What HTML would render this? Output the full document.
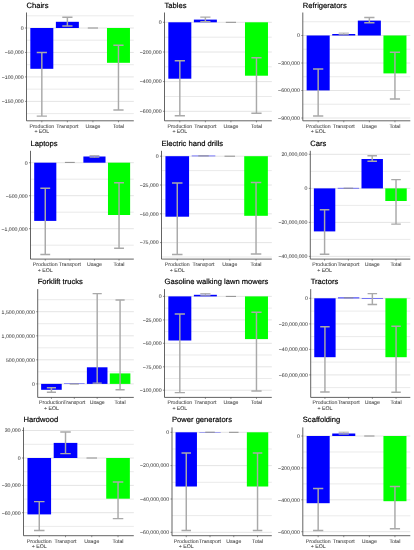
<!DOCTYPE html>
<html lang="en"><head><meta charset="utf-8"><title>Life cycle impact bar charts</title>
<style>html,body{margin:0;padding:0;background:#fff}body{width:414px;height:550px;overflow:hidden}svg{display:block}svg{will-change:transform}.tx{filter:grayscale(1)}text{font-family:"Liberation Sans",sans-serif}text{text-rendering:geometricPrecision}.t{font-size:7.6px;fill:#000;stroke:#000;stroke-width:.18px}.a{font-size:5.2px;fill:#4d4d4d;stroke:#4d4d4d;stroke-width:.08px}.y{text-anchor:end}.x{text-anchor:middle}</style></head><body>
<svg width="414" height="550" viewBox="0 0 414 550">
<rect width="414" height="550" fill="#fff"/>
<g>
<line x1="26.5" x2="133.8" y1="15.8" y2="15.8" stroke="#dcdcdc" stroke-width="0.6"/>
<line x1="26.5" x2="133.8" y1="40.2" y2="40.2" stroke="#dcdcdc" stroke-width="0.6"/>
<line x1="26.5" x2="133.8" y1="64.7" y2="64.7" stroke="#dcdcdc" stroke-width="0.6"/>
<line x1="26.5" x2="133.8" y1="89.15" y2="89.15" stroke="#dcdcdc" stroke-width="0.6"/>
<line x1="26.5" x2="133.8" y1="113.6" y2="113.6" stroke="#dcdcdc" stroke-width="0.6"/>
<line x1="26.5" x2="133.8" y1="28" y2="28" stroke="#d6d6d6" stroke-width="0.65"/>
<line x1="26.5" x2="133.8" y1="52.45" y2="52.45" stroke="#d6d6d6" stroke-width="0.65"/>
<line x1="26.5" x2="133.8" y1="76.9" y2="76.9" stroke="#d6d6d6" stroke-width="0.65"/>
<line x1="26.5" x2="133.8" y1="101.4" y2="101.4" stroke="#d6d6d6" stroke-width="0.65"/>
<rect x="30.33" y="28" width="22.99" height="40.8" fill="#0000ff"/>
<rect x="55.88" y="21.8" width="22.99" height="6.2" fill="#0000ff"/>
<rect x="106.98" y="28" width="22.99" height="34.8" fill="#00ff00"/>
<path d="M36.72 52.4H46.94M36.72 116.1H46.94M41.83 52.4V116.1" stroke="#a9a9a9" stroke-width="1.45" fill="none"/>
<path d="M62.27 17.3H72.49M62.27 26H72.49M67.38 17.3V26" stroke="#a9a9a9" stroke-width="1.45" fill="none"/>
<path d="M87.81 28H98.03" stroke="#8e8e8e" stroke-width="1.0" fill="none"/>
<path d="M113.36 45.2H123.58M113.36 110H123.58M118.47 45.2V110" stroke="#a9a9a9" stroke-width="1.45" fill="none"/>
<path d="M26.5 12.5V120.8H133.8" stroke="#484848" stroke-width="0.85" fill="none"/>
<path d="M25 28H26.5M25 52.45H26.5M25 76.9H26.5M25 101.4H26.5M41.83 120.8V122.3M67.38 120.8V122.3M92.92 120.8V122.3M118.47 120.8V122.3" stroke="#484848" stroke-width="0.6" fill="none"/>
</g>
<g>
<line x1="164.5" x2="271.8" y1="37.2" y2="37.2" stroke="#dcdcdc" stroke-width="0.6"/>
<line x1="164.5" x2="271.8" y1="66.8" y2="66.8" stroke="#dcdcdc" stroke-width="0.6"/>
<line x1="164.5" x2="271.8" y1="96.5" y2="96.5" stroke="#dcdcdc" stroke-width="0.6"/>
<line x1="164.5" x2="271.8" y1="22.3" y2="22.3" stroke="#d6d6d6" stroke-width="0.65"/>
<line x1="164.5" x2="271.8" y1="52" y2="52" stroke="#d6d6d6" stroke-width="0.65"/>
<line x1="164.5" x2="271.8" y1="81.6" y2="81.6" stroke="#d6d6d6" stroke-width="0.65"/>
<line x1="164.5" x2="271.8" y1="111.3" y2="111.3" stroke="#d6d6d6" stroke-width="0.65"/>
<rect x="168.33" y="22.3" width="22.99" height="56.4" fill="#0000ff"/>
<rect x="193.88" y="19.6" width="22.99" height="2.7" fill="#0000ff"/>
<rect x="244.98" y="22.3" width="22.99" height="53.4" fill="#00ff00"/>
<path d="M174.72 60.8H184.94M174.72 115.8H184.94M179.83 60.8V115.8" stroke="#a9a9a9" stroke-width="1.45" fill="none"/>
<path d="M200.27 17.1H210.49M200.27 21.6H210.49M205.38 17.1V21.6" stroke="#a9a9a9" stroke-width="1.45" fill="none"/>
<path d="M225.81 22.3H236.03" stroke="#8e8e8e" stroke-width="1.0" fill="none"/>
<path d="M251.36 57.8H261.58M251.36 113.3H261.58M256.47 57.8V113.3" stroke="#a9a9a9" stroke-width="1.45" fill="none"/>
<path d="M164.5 12.5V120.8H271.8" stroke="#484848" stroke-width="0.85" fill="none"/>
<path d="M163 22.3H164.5M163 52H164.5M163 81.6H164.5M163 111.3H164.5M179.83 120.8V122.3M205.38 120.8V122.3M230.92 120.8V122.3M256.47 120.8V122.3" stroke="#484848" stroke-width="0.6" fill="none"/>
</g>
<g>
<line x1="302.8" x2="410.3" y1="21.75" y2="21.75" stroke="#dcdcdc" stroke-width="0.6"/>
<line x1="302.8" x2="410.3" y1="49.25" y2="49.25" stroke="#dcdcdc" stroke-width="0.6"/>
<line x1="302.8" x2="410.3" y1="76.75" y2="76.75" stroke="#dcdcdc" stroke-width="0.6"/>
<line x1="302.8" x2="410.3" y1="104.25" y2="104.25" stroke="#dcdcdc" stroke-width="0.6"/>
<line x1="302.8" x2="410.3" y1="35.5" y2="35.5" stroke="#d6d6d6" stroke-width="0.65"/>
<line x1="302.8" x2="410.3" y1="63" y2="63" stroke="#d6d6d6" stroke-width="0.65"/>
<line x1="302.8" x2="410.3" y1="90.5" y2="90.5" stroke="#d6d6d6" stroke-width="0.65"/>
<line x1="302.8" x2="410.3" y1="118" y2="118" stroke="#d6d6d6" stroke-width="0.65"/>
<rect x="306.64" y="35.5" width="23.04" height="54.9" fill="#0000ff"/>
<rect x="332.23" y="34" width="23.04" height="1.5" fill="#0000ff"/>
<rect x="357.83" y="20.6" width="23.04" height="14.9" fill="#0000ff"/>
<rect x="383.43" y="35.5" width="23.04" height="37.9" fill="#00ff00"/>
<path d="M313.04 69H323.28M313.04 116H323.28M318.16 69V116" stroke="#a9a9a9" stroke-width="1.45" fill="none"/>
<path d="M338.63 33.1H348.87M338.63 34.7H348.87M343.75 33.1V34.7" stroke="#a9a9a9" stroke-width="0.95" fill="none"/>
<path d="M364.23 17.5H374.47M364.23 22.7H374.47M369.35 17.5V22.7" stroke="#a9a9a9" stroke-width="1.45" fill="none"/>
<path d="M389.82 52.3H400.06M389.82 99H400.06M394.94 52.3V99" stroke="#a9a9a9" stroke-width="1.45" fill="none"/>
<path d="M302.8 12.5V120.8H410.3" stroke="#484848" stroke-width="0.85" fill="none"/>
<path d="M301.3 35.5H302.8M301.3 63H302.8M301.3 90.5H302.8M301.3 118H302.8M318.16 120.8V122.3M343.75 120.8V122.3M369.35 120.8V122.3M394.94 120.8V122.3" stroke="#484848" stroke-width="0.6" fill="none"/>
</g>
<g>
<line x1="30.5" x2="133.8" y1="179.2" y2="179.2" stroke="#dcdcdc" stroke-width="0.6"/>
<line x1="30.5" x2="133.8" y1="212.2" y2="212.2" stroke="#dcdcdc" stroke-width="0.6"/>
<line x1="30.5" x2="133.8" y1="245.2" y2="245.2" stroke="#dcdcdc" stroke-width="0.6"/>
<line x1="30.5" x2="133.8" y1="162.7" y2="162.7" stroke="#d6d6d6" stroke-width="0.65"/>
<line x1="30.5" x2="133.8" y1="195.7" y2="195.7" stroke="#d6d6d6" stroke-width="0.65"/>
<line x1="30.5" x2="133.8" y1="228.7" y2="228.7" stroke="#d6d6d6" stroke-width="0.65"/>
<rect x="34.19" y="162.7" width="22.14" height="58.2" fill="#0000ff"/>
<rect x="83.38" y="156.5" width="22.14" height="6.2" fill="#0000ff"/>
<rect x="107.98" y="162.7" width="22.14" height="52.3" fill="#00ff00"/>
<path d="M40.34 188.2H50.18M40.34 254.4H50.18M45.26 188.2V254.4" stroke="#a9a9a9" stroke-width="1.45" fill="none"/>
<path d="M64.93 162.4H74.77" stroke="#8e8e8e" stroke-width="1.0" fill="none"/>
<path d="M89.53 155.6H99.37M89.53 157.3H99.37M94.45 155.6V157.3" stroke="#a9a9a9" stroke-width="0.95" fill="none"/>
<path d="M114.12 182.7H123.96M114.12 248.2H123.96M119.04 182.7V248.2" stroke="#a9a9a9" stroke-width="1.45" fill="none"/>
<path d="M30.5 150.8V259.1H133.8" stroke="#484848" stroke-width="0.85" fill="none"/>
<path d="M29 162.7H30.5M29 195.7H30.5M29 228.7H30.5M45.26 259.1V260.6M69.85 259.1V260.6M94.45 259.1V260.6M119.04 259.1V260.6" stroke="#484848" stroke-width="0.6" fill="none"/>
</g>
<g>
<line x1="161.5" x2="271.8" y1="170.6" y2="170.6" stroke="#dcdcdc" stroke-width="0.6"/>
<line x1="161.5" x2="271.8" y1="199.4" y2="199.4" stroke="#dcdcdc" stroke-width="0.6"/>
<line x1="161.5" x2="271.8" y1="228.2" y2="228.2" stroke="#dcdcdc" stroke-width="0.6"/>
<line x1="161.5" x2="271.8" y1="257" y2="257" stroke="#dcdcdc" stroke-width="0.6"/>
<line x1="161.5" x2="271.8" y1="156.2" y2="156.2" stroke="#d6d6d6" stroke-width="0.65"/>
<line x1="161.5" x2="271.8" y1="185" y2="185" stroke="#d6d6d6" stroke-width="0.65"/>
<line x1="161.5" x2="271.8" y1="213.8" y2="213.8" stroke="#d6d6d6" stroke-width="0.65"/>
<line x1="161.5" x2="271.8" y1="242.6" y2="242.6" stroke="#d6d6d6" stroke-width="0.65"/>
<rect x="165.44" y="156.2" width="23.64" height="60.5" fill="#0000ff"/>
<rect x="191.7" y="155.7" width="23.64" height="0.5" fill="#0000ff"/>
<rect x="244.22" y="156.2" width="23.64" height="59.6" fill="#00ff00"/>
<path d="M172 183H182.51M172 254.4H182.51M177.26 183V254.4" stroke="#a9a9a9" stroke-width="1.45" fill="none"/>
<path d="M198.27 155.9H208.77" stroke="#8e8e8e" stroke-width="1.0" fill="none"/>
<path d="M224.53 156.2H235.03" stroke="#8e8e8e" stroke-width="1.0" fill="none"/>
<path d="M250.79 182.5H261.3M250.79 253.9H261.3M256.04 182.5V253.9" stroke="#a9a9a9" stroke-width="1.45" fill="none"/>
<path d="M161.5 150.8V259.1H271.8" stroke="#484848" stroke-width="0.85" fill="none"/>
<path d="M160 156.2H161.5M160 185H161.5M160 213.8H161.5M160 242.6H161.5M177.26 259.1V260.6M203.52 259.1V260.6M229.78 259.1V260.6M256.04 259.1V260.6" stroke="#484848" stroke-width="0.6" fill="none"/>
</g>
<g>
<line x1="310.3" x2="410.3" y1="171.35" y2="171.35" stroke="#dcdcdc" stroke-width="0.6"/>
<line x1="310.3" x2="410.3" y1="205.4" y2="205.4" stroke="#dcdcdc" stroke-width="0.6"/>
<line x1="310.3" x2="410.3" y1="239.4" y2="239.4" stroke="#dcdcdc" stroke-width="0.6"/>
<line x1="310.3" x2="410.3" y1="154.3" y2="154.3" stroke="#d6d6d6" stroke-width="0.65"/>
<line x1="310.3" x2="410.3" y1="188.4" y2="188.4" stroke="#d6d6d6" stroke-width="0.65"/>
<line x1="310.3" x2="410.3" y1="222.4" y2="222.4" stroke="#d6d6d6" stroke-width="0.65"/>
<line x1="310.3" x2="410.3" y1="256.4" y2="256.4" stroke="#d6d6d6" stroke-width="0.65"/>
<rect x="313.87" y="188.4" width="21.43" height="43" fill="#0000ff"/>
<rect x="337.68" y="187.9" width="21.43" height="0.5" fill="#0000ff"/>
<rect x="361.49" y="159" width="21.43" height="29.4" fill="#0000ff"/>
<rect x="385.3" y="188.4" width="21.43" height="12.6" fill="#00ff00"/>
<path d="M319.82 209.7H329.35M319.82 254.2H329.35M324.59 209.7V254.2" stroke="#a9a9a9" stroke-width="1.45" fill="none"/>
<path d="M343.63 188.2H353.16" stroke="#8e8e8e" stroke-width="1.0" fill="none"/>
<path d="M367.44 155.7H376.97M367.44 161.3H376.97M372.2 155.7V161.3" stroke="#a9a9a9" stroke-width="1.45" fill="none"/>
<path d="M391.25 179.6H400.78M391.25 224.1H400.78M396.01 179.6V224.1" stroke="#a9a9a9" stroke-width="1.45" fill="none"/>
<path d="M310.3 150.8V259.1H410.3" stroke="#484848" stroke-width="0.85" fill="none"/>
<path d="M308.8 154.3H310.3M308.8 188.4H310.3M308.8 222.4H310.3M308.8 256.4H310.3M324.59 259.1V260.6M348.4 259.1V260.6M372.2 259.1V260.6M396.01 259.1V260.6" stroke="#484848" stroke-width="0.6" fill="none"/>
</g>
<g>
<line x1="37.7" x2="133.8" y1="299.7" y2="299.7" stroke="#dcdcdc" stroke-width="0.6"/>
<line x1="37.7" x2="133.8" y1="323.7" y2="323.7" stroke="#dcdcdc" stroke-width="0.6"/>
<line x1="37.7" x2="133.8" y1="347.8" y2="347.8" stroke="#dcdcdc" stroke-width="0.6"/>
<line x1="37.7" x2="133.8" y1="371.8" y2="371.8" stroke="#dcdcdc" stroke-width="0.6"/>
<line x1="37.7" x2="133.8" y1="311.7" y2="311.7" stroke="#d6d6d6" stroke-width="0.65"/>
<line x1="37.7" x2="133.8" y1="335.8" y2="335.8" stroke="#d6d6d6" stroke-width="0.65"/>
<line x1="37.7" x2="133.8" y1="359.8" y2="359.8" stroke="#d6d6d6" stroke-width="0.65"/>
<line x1="37.7" x2="133.8" y1="383.9" y2="383.9" stroke="#d6d6d6" stroke-width="0.65"/>
<rect x="41.13" y="383.9" width="20.59" height="5.9" fill="#0000ff"/>
<rect x="64.01" y="383.6" width="20.59" height="0.4" fill="#0000ff"/>
<rect x="86.89" y="367.3" width="20.59" height="16.6" fill="#0000ff"/>
<rect x="109.78" y="373.4" width="20.59" height="10.5" fill="#00ff00"/>
<path d="M46.85 387.8H56M46.85 392.3H56M51.43 387.8V392.3" stroke="#a9a9a9" stroke-width="1.45" fill="none"/>
<path d="M69.73 384H78.89" stroke="#8e8e8e" stroke-width="1.0" fill="none"/>
<path d="M92.61 293.6H101.77M92.61 383.1H101.77M97.19 293.6V383.1" stroke="#a9a9a9" stroke-width="1.45" fill="none"/>
<path d="M115.5 300H124.65M115.5 389.8H124.65M120.07 300V389.8" stroke="#a9a9a9" stroke-width="1.45" fill="none"/>
<path d="M37.7 289.1V397.4H133.8" stroke="#484848" stroke-width="0.85" fill="none"/>
<path d="M36.2 311.7H37.7M36.2 335.8H37.7M36.2 359.8H37.7M36.2 383.9H37.7M51.43 397.4V398.9M74.31 397.4V398.9M97.19 397.4V398.9M120.07 397.4V398.9" stroke="#484848" stroke-width="0.6" fill="none"/>
</g>
<g>
<line x1="164.5" x2="271.8" y1="308.1" y2="308.1" stroke="#dcdcdc" stroke-width="0.6"/>
<line x1="164.5" x2="271.8" y1="331.6" y2="331.6" stroke="#dcdcdc" stroke-width="0.6"/>
<line x1="164.5" x2="271.8" y1="355" y2="355" stroke="#dcdcdc" stroke-width="0.6"/>
<line x1="164.5" x2="271.8" y1="378.5" y2="378.5" stroke="#dcdcdc" stroke-width="0.6"/>
<line x1="164.5" x2="271.8" y1="296.4" y2="296.4" stroke="#d6d6d6" stroke-width="0.65"/>
<line x1="164.5" x2="271.8" y1="319.9" y2="319.9" stroke="#d6d6d6" stroke-width="0.65"/>
<line x1="164.5" x2="271.8" y1="343.3" y2="343.3" stroke="#d6d6d6" stroke-width="0.65"/>
<line x1="164.5" x2="271.8" y1="366.8" y2="366.8" stroke="#d6d6d6" stroke-width="0.65"/>
<line x1="164.5" x2="271.8" y1="390.2" y2="390.2" stroke="#d6d6d6" stroke-width="0.65"/>
<rect x="168.33" y="296.4" width="22.99" height="44.1" fill="#0000ff"/>
<rect x="193.88" y="294.8" width="22.99" height="1.6" fill="#0000ff"/>
<rect x="244.98" y="296.4" width="22.99" height="42.7" fill="#00ff00"/>
<path d="M174.72 314H184.94M174.72 392.6H184.94M179.83 314V392.6" stroke="#a9a9a9" stroke-width="1.45" fill="none"/>
<path d="M200.27 293.6H210.49M200.27 295.3H210.49M205.38 293.6V295.3" stroke="#a9a9a9" stroke-width="0.95" fill="none"/>
<path d="M225.81 296.4H236.03" stroke="#8e8e8e" stroke-width="1.0" fill="none"/>
<path d="M251.36 312.3H261.58M251.36 391H261.58M256.47 312.3V391" stroke="#a9a9a9" stroke-width="1.45" fill="none"/>
<path d="M164.5 289.1V397.4H271.8" stroke="#484848" stroke-width="0.85" fill="none"/>
<path d="M163 296.4H164.5M163 319.9H164.5M163 343.3H164.5M163 366.8H164.5M163 390.2H164.5M179.83 397.4V398.9M205.38 397.4V398.9M230.92 397.4V398.9M256.47 397.4V398.9" stroke="#484848" stroke-width="0.6" fill="none"/>
</g>
<g>
<line x1="310.7" x2="410.3" y1="311.1" y2="311.1" stroke="#dcdcdc" stroke-width="0.6"/>
<line x1="310.7" x2="410.3" y1="336.6" y2="336.6" stroke="#dcdcdc" stroke-width="0.6"/>
<line x1="310.7" x2="410.3" y1="362.1" y2="362.1" stroke="#dcdcdc" stroke-width="0.6"/>
<line x1="310.7" x2="410.3" y1="387.6" y2="387.6" stroke="#dcdcdc" stroke-width="0.6"/>
<line x1="310.7" x2="410.3" y1="298.3" y2="298.3" stroke="#d6d6d6" stroke-width="0.65"/>
<line x1="310.7" x2="410.3" y1="323.9" y2="323.9" stroke="#d6d6d6" stroke-width="0.65"/>
<line x1="310.7" x2="410.3" y1="349.4" y2="349.4" stroke="#d6d6d6" stroke-width="0.65"/>
<line x1="310.7" x2="410.3" y1="374.9" y2="374.9" stroke="#d6d6d6" stroke-width="0.65"/>
<rect x="314.26" y="298.3" width="21.34" height="58.9" fill="#0000ff"/>
<rect x="337.97" y="297.5" width="21.34" height="0.8" fill="#0000ff"/>
<rect x="361.69" y="298" width="21.34" height="0.5" fill="#0000ff"/>
<rect x="385.4" y="298.3" width="21.34" height="58.9" fill="#00ff00"/>
<path d="M320.19 326.8H329.67M320.19 392H329.67M324.93 326.8V392" stroke="#a9a9a9" stroke-width="1.45" fill="none"/>
<path d="M343.9 297.8H353.39" stroke="#8e8e8e" stroke-width="1.0" fill="none"/>
<path d="M367.61 293.6H377.1M367.61 304.5H377.1M372.36 293.6V304.5" stroke="#a9a9a9" stroke-width="1.45" fill="none"/>
<path d="M391.33 326.3H400.81M391.33 392.3H400.81M396.07 326.3V392.3" stroke="#a9a9a9" stroke-width="1.45" fill="none"/>
<path d="M310.7 289.1V397.4H410.3" stroke="#484848" stroke-width="0.85" fill="none"/>
<path d="M309.2 298.3H310.7M309.2 323.9H310.7M309.2 349.4H310.7M309.2 374.9H310.7M324.93 397.4V398.9M348.64 397.4V398.9M372.36 397.4V398.9M396.07 397.4V398.9" stroke="#484848" stroke-width="0.6" fill="none"/>
</g>
<g>
<line x1="23.5" x2="133.8" y1="444.3" y2="444.3" stroke="#dcdcdc" stroke-width="0.6"/>
<line x1="23.5" x2="133.8" y1="471.7" y2="471.7" stroke="#dcdcdc" stroke-width="0.6"/>
<line x1="23.5" x2="133.8" y1="499.1" y2="499.1" stroke="#dcdcdc" stroke-width="0.6"/>
<line x1="23.5" x2="133.8" y1="526.4" y2="526.4" stroke="#dcdcdc" stroke-width="0.6"/>
<line x1="23.5" x2="133.8" y1="430.5" y2="430.5" stroke="#d6d6d6" stroke-width="0.65"/>
<line x1="23.5" x2="133.8" y1="458" y2="458" stroke="#d6d6d6" stroke-width="0.65"/>
<line x1="23.5" x2="133.8" y1="485.4" y2="485.4" stroke="#d6d6d6" stroke-width="0.65"/>
<line x1="23.5" x2="133.8" y1="512.7" y2="512.7" stroke="#d6d6d6" stroke-width="0.65"/>
<rect x="27.44" y="458" width="23.64" height="56.4" fill="#0000ff"/>
<rect x="53.7" y="442.9" width="23.64" height="15.1" fill="#0000ff"/>
<rect x="106.22" y="458" width="23.64" height="40.7" fill="#00ff00"/>
<path d="M34 501.6H44.51M34 530.5H44.51M39.26 501.6V530.5" stroke="#a9a9a9" stroke-width="1.45" fill="none"/>
<path d="M60.27 432H70.77M60.27 453.6H70.77M65.52 432V453.6" stroke="#a9a9a9" stroke-width="1.45" fill="none"/>
<path d="M86.53 458H97.03" stroke="#8e8e8e" stroke-width="1.0" fill="none"/>
<path d="M112.79 482H123.3M112.79 518.6H123.3M118.04 482V518.6" stroke="#a9a9a9" stroke-width="1.45" fill="none"/>
<path d="M23.5 427.4V535.7H133.8" stroke="#484848" stroke-width="0.85" fill="none"/>
<path d="M22 430.5H23.5M22 458H23.5M22 485.4H23.5M22 512.7H23.5M39.26 535.7V537.2M65.52 535.7V537.2M91.78 535.7V537.2M118.04 535.7V537.2" stroke="#484848" stroke-width="0.6" fill="none"/>
</g>
<g>
<line x1="172" x2="271.8" y1="449" y2="449" stroke="#dcdcdc" stroke-width="0.6"/>
<line x1="172" x2="271.8" y1="482.3" y2="482.3" stroke="#dcdcdc" stroke-width="0.6"/>
<line x1="172" x2="271.8" y1="515.6" y2="515.6" stroke="#dcdcdc" stroke-width="0.6"/>
<line x1="172" x2="271.8" y1="432.3" y2="432.3" stroke="#d6d6d6" stroke-width="0.65"/>
<line x1="172" x2="271.8" y1="465.6" y2="465.6" stroke="#d6d6d6" stroke-width="0.65"/>
<line x1="172" x2="271.8" y1="499" y2="499" stroke="#d6d6d6" stroke-width="0.65"/>
<line x1="172" x2="271.8" y1="532.3" y2="532.3" stroke="#d6d6d6" stroke-width="0.65"/>
<rect x="175.56" y="432.3" width="21.39" height="54.2" fill="#0000ff"/>
<rect x="199.33" y="432" width="21.39" height="0.3" fill="#0000ff"/>
<rect x="246.85" y="432.3" width="21.39" height="54.2" fill="#00ff00"/>
<path d="M181.5 452.9H191.01M181.5 530.5H191.01M186.26 452.9V530.5" stroke="#a9a9a9" stroke-width="1.45" fill="none"/>
<path d="M205.27 432.2H214.77" stroke="#8e8e8e" stroke-width="1.0" fill="none"/>
<path d="M229.03 432.3H238.53" stroke="#8e8e8e" stroke-width="1.0" fill="none"/>
<path d="M252.79 452.9H262.3M252.79 530.5H262.3M257.54 452.9V530.5" stroke="#a9a9a9" stroke-width="1.45" fill="none"/>
<path d="M172 427.4V535.7H271.8" stroke="#484848" stroke-width="0.85" fill="none"/>
<path d="M170.5 432.3H172M170.5 465.6H172M170.5 499H172M170.5 532.3H172M186.26 535.7V537.2M210.02 535.7V537.2M233.78 535.7V537.2M257.54 535.7V537.2" stroke="#484848" stroke-width="0.6" fill="none"/>
</g>
<g>
<line x1="302.8" x2="410.3" y1="452" y2="452" stroke="#dcdcdc" stroke-width="0.6"/>
<line x1="302.8" x2="410.3" y1="483.9" y2="483.9" stroke="#dcdcdc" stroke-width="0.6"/>
<line x1="302.8" x2="410.3" y1="515.8" y2="515.8" stroke="#dcdcdc" stroke-width="0.6"/>
<line x1="302.8" x2="410.3" y1="436" y2="436" stroke="#d6d6d6" stroke-width="0.65"/>
<line x1="302.8" x2="410.3" y1="467.9" y2="467.9" stroke="#d6d6d6" stroke-width="0.65"/>
<line x1="302.8" x2="410.3" y1="499.8" y2="499.8" stroke="#d6d6d6" stroke-width="0.65"/>
<line x1="302.8" x2="410.3" y1="531.7" y2="531.7" stroke="#d6d6d6" stroke-width="0.65"/>
<rect x="306.64" y="436" width="23.04" height="67.2" fill="#0000ff"/>
<rect x="332.23" y="433.5" width="23.04" height="2.5" fill="#0000ff"/>
<rect x="383.43" y="436" width="23.04" height="65.2" fill="#00ff00"/>
<path d="M313.04 488.5H323.28M313.04 530.5H323.28M318.16 488.5V530.5" stroke="#a9a9a9" stroke-width="1.45" fill="none"/>
<path d="M338.63 432.2H348.87M338.63 434.2H348.87M343.75 432.2V434.2" stroke="#a9a9a9" stroke-width="0.95" fill="none"/>
<path d="M364.23 436H374.47" stroke="#8e8e8e" stroke-width="1.0" fill="none"/>
<path d="M389.82 486.5H400.06M389.82 528.7H400.06M394.94 486.5V528.7" stroke="#a9a9a9" stroke-width="1.45" fill="none"/>
<path d="M302.8 427.4V535.7H410.3" stroke="#484848" stroke-width="0.85" fill="none"/>
<path d="M301.3 436H302.8M301.3 467.9H302.8M301.3 499.8H302.8M301.3 531.7H302.8M318.16 535.7V537.2M343.75 535.7V537.2M369.35 535.7V537.2M394.94 535.7V537.2" stroke="#484848" stroke-width="0.6" fill="none"/>
</g>
<g class="tx">
<text class="a y" x="23.6" y="29.8">0</text>
<text class="a y" x="23.6" y="54.25">−50,000</text>
<text class="a y" x="23.6" y="78.7">−100,000</text>
<text class="a y" x="23.6" y="103.2">−150,000</text>
<text class="a x" x="41.83" y="127.7">Production</text>
<text class="a x" x="41.83" y="133.2">+ EOL</text>
<text class="a x" x="67.38" y="127.7">Transport</text>
<text class="a x" x="92.92" y="127.7">Usage</text>
<text class="a x" x="118.47" y="127.7">Total</text>
<text class="t" x="26.5" y="8">Chairs</text>
<text class="a y" x="161.6" y="24.1">0</text>
<text class="a y" x="161.6" y="53.8">−200,000</text>
<text class="a y" x="161.6" y="83.4">−400,000</text>
<text class="a y" x="161.6" y="113.1">−600,000</text>
<text class="a x" x="179.83" y="127.7">Production</text>
<text class="a x" x="179.83" y="133.2">+ EOL</text>
<text class="a x" x="205.38" y="127.7">Transport</text>
<text class="a x" x="230.92" y="127.7">Usage</text>
<text class="a x" x="256.47" y="127.7">Total</text>
<text class="t" x="164.5" y="8">Tables</text>
<text class="a y" x="299.9" y="37.3">0</text>
<text class="a y" x="299.9" y="64.8">−300,000</text>
<text class="a y" x="299.9" y="92.3">−600,000</text>
<text class="a y" x="299.9" y="119.8">−900,000</text>
<text class="a x" x="318.16" y="127.7">Production</text>
<text class="a x" x="318.16" y="133.2">+ EOL</text>
<text class="a x" x="343.75" y="127.7">Transport</text>
<text class="a x" x="369.35" y="127.7">Usage</text>
<text class="a x" x="394.94" y="127.7">Total</text>
<text class="t" x="302.8" y="8">Refrigerators</text>
<text class="a y" x="27.6" y="164.5">0</text>
<text class="a y" x="27.6" y="197.5">−500,000</text>
<text class="a y" x="27.6" y="230.5">−1,000,000</text>
<text class="a x" x="45.26" y="266">Production</text>
<text class="a x" x="45.26" y="271.5">+ EOL</text>
<text class="a x" x="69.85" y="266">Transport</text>
<text class="a x" x="94.45" y="266">Usage</text>
<text class="a x" x="119.04" y="266">Total</text>
<text class="t" x="30.5" y="146.3">Laptops</text>
<text class="a y" x="158.6" y="158">0</text>
<text class="a y" x="158.6" y="186.8">−25,000</text>
<text class="a y" x="158.6" y="215.6">−50,000</text>
<text class="a y" x="158.6" y="244.4">−75,000</text>
<text class="a x" x="177.26" y="266">Production</text>
<text class="a x" x="177.26" y="271.5">+ EOL</text>
<text class="a x" x="203.52" y="266">Transport</text>
<text class="a x" x="229.78" y="266">Usage</text>
<text class="a x" x="256.04" y="266">Total</text>
<text class="t" x="161.5" y="146.3">Electric hand drills</text>
<text class="a y" x="307.4" y="156.1">20,000,000</text>
<text class="a y" x="307.4" y="190.2">0</text>
<text class="a y" x="307.4" y="224.2">−20,000,000</text>
<text class="a y" x="307.4" y="258.2">−40,000,000</text>
<text class="a x" x="324.59" y="266">Production</text>
<text class="a x" x="324.59" y="271.5">+ EOL</text>
<text class="a x" x="348.4" y="266">Transport</text>
<text class="a x" x="372.2" y="266">Usage</text>
<text class="a x" x="396.01" y="266">Total</text>
<text class="t" x="310.3" y="146.3">Cars</text>
<text class="a y" x="34.8" y="313.5">1,500,000,000</text>
<text class="a y" x="34.8" y="337.6">1,000,000,000</text>
<text class="a y" x="34.8" y="361.6">500,000,000</text>
<text class="a y" x="34.8" y="385.7">0</text>
<text class="a x" x="51.43" y="404.3">Production</text>
<text class="a x" x="51.43" y="409.8">+ EOL</text>
<text class="a x" x="74.31" y="404.3">Transport</text>
<text class="a x" x="97.19" y="404.3">Usage</text>
<text class="a x" x="120.07" y="404.3">Total</text>
<text class="t" x="37.7" y="284.25">Forklift trucks</text>
<text class="a y" x="161.6" y="298.2">0</text>
<text class="a y" x="161.6" y="321.7">−25,000</text>
<text class="a y" x="161.6" y="345.1">−50,000</text>
<text class="a y" x="161.6" y="368.6">−75,000</text>
<text class="a y" x="161.6" y="392">−100,000</text>
<text class="a x" x="179.83" y="404.3">Production</text>
<text class="a x" x="179.83" y="409.8">+ EOL</text>
<text class="a x" x="205.38" y="404.3">Transport</text>
<text class="a x" x="230.92" y="404.3">Usage</text>
<text class="a x" x="256.47" y="404.3">Total</text>
<text class="t" x="164.5" y="284.25">Gasoline walking lawn mowers</text>
<text class="a y" x="307.8" y="300.1">0</text>
<text class="a y" x="307.8" y="325.7">−20,000,000</text>
<text class="a y" x="307.8" y="351.2">−40,000,000</text>
<text class="a y" x="307.8" y="376.7">−60,000,000</text>
<text class="a x" x="324.93" y="404.3">Production</text>
<text class="a x" x="324.93" y="409.8">+ EOL</text>
<text class="a x" x="348.64" y="404.3">Transport</text>
<text class="a x" x="372.36" y="404.3">Usage</text>
<text class="a x" x="396.07" y="404.3">Total</text>
<text class="t" x="310.7" y="284.25">Tractors</text>
<text class="a y" x="20.6" y="432.3">30,000</text>
<text class="a y" x="20.6" y="459.8">0</text>
<text class="a y" x="20.6" y="487.2">−30,000</text>
<text class="a y" x="20.6" y="514.5">−60,000</text>
<text class="a x" x="39.26" y="542.6">Production</text>
<text class="a x" x="39.26" y="548.1">+ EOL</text>
<text class="a x" x="65.52" y="542.6">Transport</text>
<text class="a x" x="91.78" y="542.6">Usage</text>
<text class="a x" x="118.04" y="542.6">Total</text>
<text class="t" x="23.5" y="422.25">Hardwood</text>
<text class="a y" x="169.1" y="434.1">0</text>
<text class="a y" x="169.1" y="467.4">−20,000,000</text>
<text class="a y" x="169.1" y="500.8">−40,000,000</text>
<text class="a y" x="169.1" y="534.1">−60,000,000</text>
<text class="a x" x="186.26" y="542.6">Production</text>
<text class="a x" x="186.26" y="548.1">+ EOL</text>
<text class="a x" x="210.02" y="542.6">Transport</text>
<text class="a x" x="233.78" y="542.6">Usage</text>
<text class="a x" x="257.54" y="542.6">Total</text>
<text class="t" x="172" y="422.25">Power generators</text>
<text class="a y" x="299.9" y="437.8">0</text>
<text class="a y" x="299.9" y="469.7">−200,000</text>
<text class="a y" x="299.9" y="501.6">−400,000</text>
<text class="a y" x="299.9" y="533.5">−600,000</text>
<text class="a x" x="318.16" y="542.6">Production</text>
<text class="a x" x="318.16" y="548.1">+ EOL</text>
<text class="a x" x="343.75" y="542.6">Transport</text>
<text class="a x" x="369.35" y="542.6">Usage</text>
<text class="a x" x="394.94" y="542.6">Total</text>
<text class="t" x="302.8" y="422.25">Scaffolding</text>
</g>
</svg></body></html>
